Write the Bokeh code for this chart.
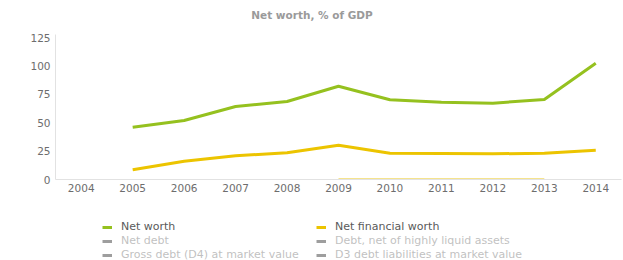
from bokeh.plotting import figure
from bokeh.models import Range1d, FactorRange, Legend, LegendItem, Label
from bokeh.layouts import column
from bokeh.embed import file_html
from bokeh.resources import INLINE

# ---- data ----
years = ["2004", "2005", "2006", "2007", "2008", "2009", "2010", "2011", "2012", "2013", "2014"]
series_years = ["2005", "2006", "2007", "2008", "2009", "2010", "2011", "2012", "2013", "2014"]
net_worth = [46.0, 52.0, 64.3, 68.7, 82.1, 70.2, 68.0, 67.2, 70.4, 102.4]
net_financial_worth = [8.5, 16.1, 20.9, 23.5, 30.2, 23.2, 22.9, 22.6, 23.2, 25.8]
faint_years = ["2009", "2010", "2011", "2012", "2013"]
faint_values = [0, 0, 0, 0, 0]
y_ticks = [0, 25, 50, 75, 100, 125]
title_text = "Net worth, % of GDP"
active_labels = ["Net worth", "Net financial worth"]
inactive_labels = ["Net debt", "Debt, net of highly liquid assets",
                   "Gross debt (D4) at market value", "D3 debt liabilities at market value"]

GREEN = "#95c11f"
YELLOW = "#ecc400"
FONT = "DejaVu Sans"

# ---- chart ----
p = figure(width=623, height=200, x_range=FactorRange(*years), y_range=Range1d(0, 157.6),
           output_backend="svg", toolbar_location=None)
p.min_border_left = 55
p.min_border_right = 2
p.min_border_top = 0
p.min_border_bottom = 21
p.outline_line_color = None
p.xgrid.visible = False
p.ygrid.visible = False

for ax in (p.xaxis[0], p.yaxis[0]):
    ax.axis_line_color = "#e2e2e2"
    ax.major_tick_line_color = None
    ax.minor_tick_line_color = None
    ax.major_tick_out = 0
    ax.major_tick_in = 0
    ax.minor_tick_out = 0
    ax.major_label_text_color = "#6d6d6d"
    ax.major_label_text_font = FONT
    ax.major_label_text_font_size = "10.5px"
p.xaxis.major_label_standoff = 4
p.yaxis.major_label_standoff = 5
p.yaxis.ticker = y_ticks
p.yaxis.bounds = (0, 127.6)

r_nw = p.line(series_years, net_worth, line_color=GREEN, line_width=3)
r_nfw = p.line(series_years, net_financial_worth, line_color=YELLOW, line_width=3)
p.line(faint_years, faint_values, line_color="#f3dc70", line_width=3, line_alpha=0.8)

title = Label(x=256.5, y=165, x_units="screen", y_units="screen", text=title_text,
              text_align="center", text_baseline="middle", text_font=FONT,
              text_font_size="10.5px", text_font_style="bold", text_color="#9a9a9a")
p.add_layout(title)

# ---- legend strip ----
q = figure(width=623, height=60, x_range=Range1d(0, 1), y_range=Range1d(0, 1),
           x_axis_location=None, y_axis_location=None,
           output_backend="svg", toolbar_location=None)
q.min_border = 0
q.min_border_left = 0
q.min_border_right = 0
q.min_border_top = 0
q.min_border_bottom = 0
q.outline_line_color = None
q.grid.visible = False

# legend swatches only: one point far outside the visible range
lg_nw = q.line(x=[5], y=[5], line_color=GREEN, line_width=3)
lg_nfw = q.line(x=[5], y=[5], line_color=YELLOW, line_width=3)
lg_inactive = [q.line(x=[5], y=[5], line_color="black", line_width=3, visible=False)
               for _ in inactive_labels]

items = [LegendItem(label=l, renderers=[r]) for l, r in zip(active_labels, [lg_nw, lg_nfw])]
items += [LegendItem(label=l, renderers=[r]) for l, r in zip(inactive_labels, lg_inactive)]

legend = Legend(items=items, ncols=2, orientation="horizontal", click_policy="hide",
                border_line_color=None, background_fill_alpha=0,
                inactive_fill_color="white", inactive_fill_alpha=0.62,
                padding=0, margin=0, spacing=1, glyph_height=12, glyph_width=10,
                label_height=12, label_width=194, label_standoff=9,
                label_text_font=FONT, label_text_font_size="11px", label_text_color="#5a5a5a",
                location=(47, -1))
q.add_layout(legend)

layout = column(p, q, spacing=0)
open("out.html", "w").write(file_html(layout, INLINE))
